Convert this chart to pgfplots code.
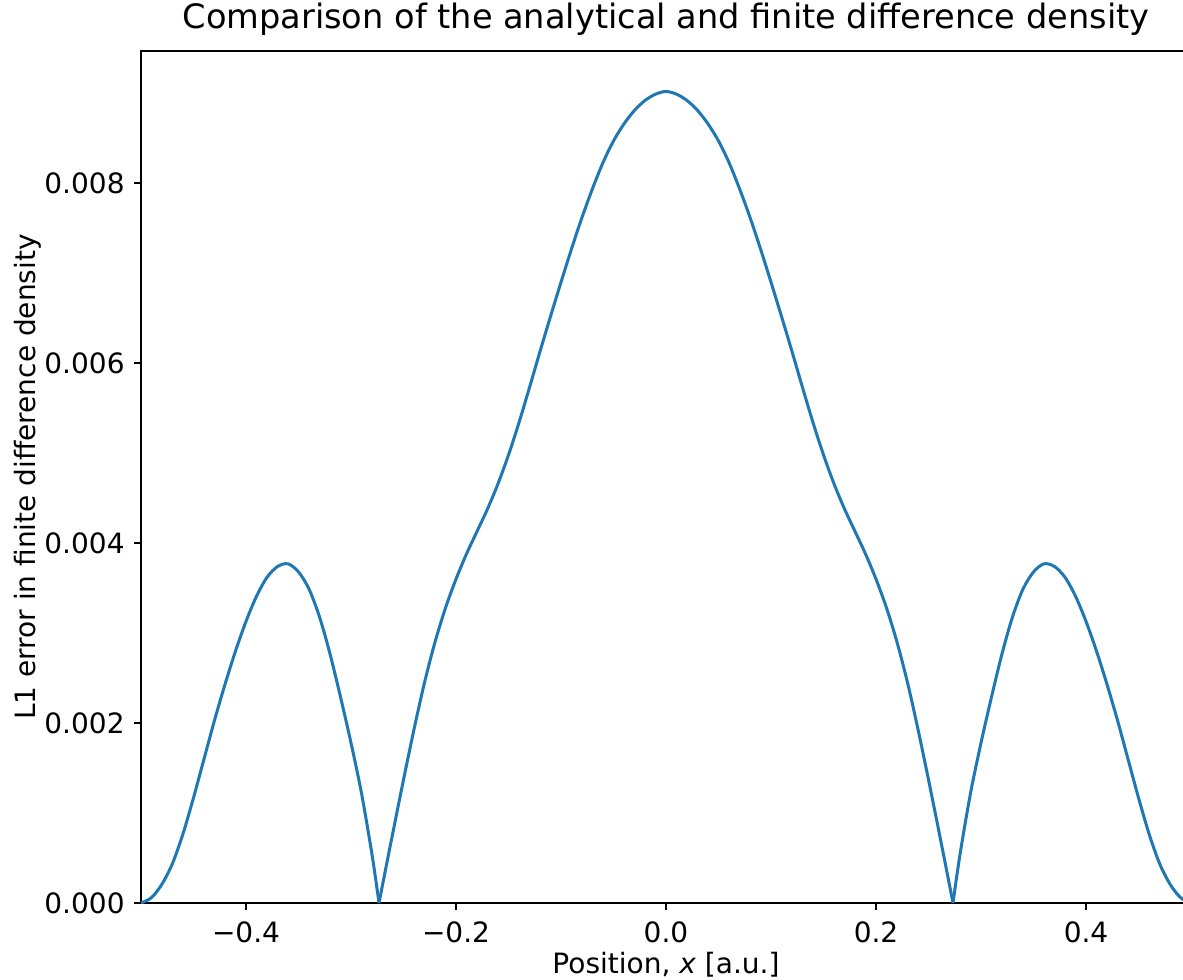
\documentclass[border=0pt]{standalone}
\usepackage{fontspec}
\setmainfont{DejaVu Sans}
\usepackage{pgfplots}
\pgfplotsset{compat=1.18}
\definecolor{mplblue}{HTML}{1F77B4}

\begin{document}
\begin{tikzpicture}
\begin{axis}[
    scale only axis,
    width=525pt, height=426pt,
    xmin=-0.5, xmax=0.5,
    ymin=0, ymax=0.00947,
    axis line style={line width=0.8pt},
    tick style={line width=0.8pt, black},
    tick align=outside,
    major tick length=3.5pt,
    xtick pos=lower, ytick pos=left,
    xtick={-0.4,-0.2,0,0.2,0.4},
    xticklabels={−0.4,−0.2,0.0,0.2,0.4},
    ytick={0,0.002,0.004,0.006,0.008},
    yticklabels={0.000,0.002,0.004,0.006,0.008},
    scaled y ticks=false,
    ticklabel style={font=\fontsize{14}{16}\selectfont, inner sep=0pt},
    xticklabel style={anchor=base, yshift=-16pt},
    yticklabel style={anchor=east, xshift=-4.5pt},
    title={Comparison of the analytical and finite difference density},
    title style={at={(axis description cs:0.5,1)}, anchor=base, yshift=5pt,
        font=\fontsize{16.8}{20}\selectfont, inner sep=0pt},
    xlabel={Position, \textit{x} [a.u.]},
    xlabel style={at={(axis description cs:0.5,0)}, anchor=base, yshift=-35pt,
        font=\fontsize{14}{16}\selectfont, inner sep=0pt},
    ylabel={L1 error in finite difference density},
    ylabel style={at={(axis description cs:-0.1,0.5)}, anchor=base, rotate=0,
        font=\fontsize{14}{16}\selectfont, inner sep=0pt},
    every axis plot/.append style={mplblue, line width=1.5pt, line join=round},
]
\coordinate (ll) at (rel axis cs:0,0);
\coordinate (ur) at (rel axis cs:1,1);

% left lobe
\addplot[smooth] coordinates {
    (-0.50,0.00000) (-0.49,0.00006) (-0.48,0.00021) (-0.47,0.00044)
    (-0.46,0.00077) (-0.45,0.00117) (-0.44,0.00160) (-0.43,0.00203)
    (-0.42,0.00243) (-0.41,0.00280) (-0.40,0.00313) (-0.39,0.00341)
    (-0.38,0.00362) (-0.37,0.00374) (-0.36,0.00377) (-0.35,0.00368)
    (-0.34,0.00349) (-0.33,0.00318) (-0.32,0.00277) (-0.31,0.00229)
    (-0.30,0.00178) (-0.29,0.00122) (-0.28,0.00054) (-0.2733,0.00000)
};
% central hump
\addplot[smooth] coordinates {
    (-0.2733,0.00000) (-0.27,0.00020) (-0.26,0.00079) (-0.25,0.00137)
    (-0.24,0.00193) (-0.23,0.00245) (-0.22,0.00290) (-0.21,0.00328)
    (-0.20,0.00360) (-0.19,0.00388) (-0.18,0.00413) (-0.17,0.00438)
    (-0.16,0.00466) (-0.15,0.00498) (-0.14,0.00534) (-0.13,0.00573)
    (-0.12,0.00613) (-0.11,0.00652) (-0.10,0.00690) (-0.09,0.00727)
    (-0.08,0.00762) (-0.07,0.00794) (-0.06,0.00823) (-0.05,0.00847)
    (-0.04,0.00866) (-0.03,0.00881) (-0.02,0.00892) (-0.01,0.00899)
    (0.00,0.00902)
    (0.01,0.00899) (0.02,0.00892) (0.03,0.00881) (0.04,0.00866)
    (0.05,0.00847) (0.06,0.00823) (0.07,0.00794) (0.08,0.00762)
    (0.09,0.00727) (0.10,0.00690) (0.11,0.00652) (0.12,0.00613)
    (0.13,0.00573) (0.14,0.00534) (0.15,0.00498) (0.16,0.00466)
    (0.17,0.00438) (0.18,0.00413) (0.19,0.00388) (0.20,0.00360)
    (0.21,0.00328) (0.22,0.00290) (0.23,0.00245) (0.24,0.00193)
    (0.25,0.00137) (0.26,0.00079) (0.27,0.00020) (0.2733,0.00000)
};
% right lobe
\addplot[smooth] coordinates {
    (0.2733,0.00000) (0.28,0.00054) (0.29,0.00122) (0.30,0.00178)
    (0.31,0.00229) (0.32,0.00277) (0.33,0.00318) (0.34,0.00349)
    (0.35,0.00368) (0.36,0.00377) (0.37,0.00374) (0.38,0.00362)
    (0.39,0.00341) (0.40,0.00313) (0.41,0.00280) (0.42,0.00243)
    (0.43,0.00203) (0.44,0.00160) (0.45,0.00117) (0.46,0.00077)
    (0.47,0.00044) (0.48,0.00021) (0.49,0.00006) (0.50,0.00000)
};
\end{axis}
\pgfresetboundingbox
\useasboundingbox ([xshift=-70.5pt,yshift=-38pt]ll) rectangle ([xshift=-4pt,yshift=25.5pt]ur);
\end{tikzpicture}
\end{document}
